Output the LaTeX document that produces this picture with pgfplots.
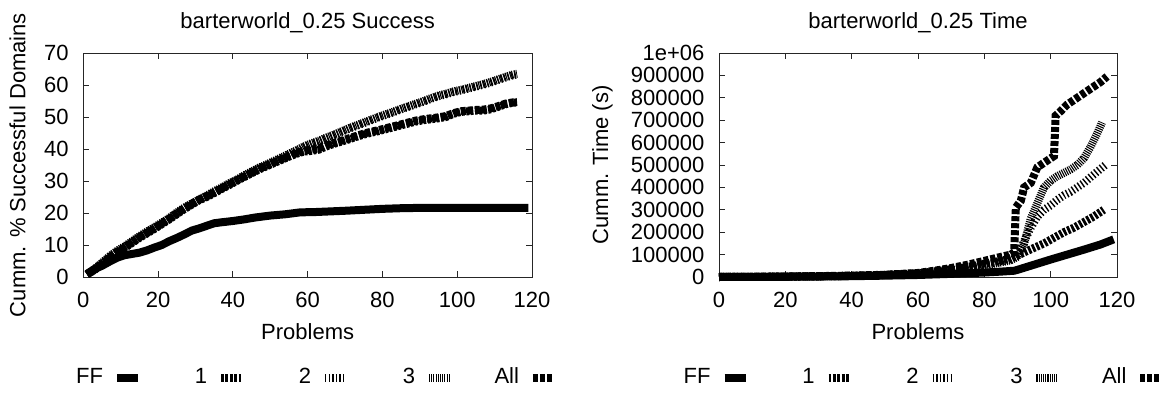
\documentclass[border=0pt]{standalone}
\usepackage{fontspec}
\setmainfont{Liberation Sans}
\usepackage{pgfplots}
\pgfplotsset{compat=1.18}
\newcommand\gpfont{\fontsize{11}{13}\selectfont}
\pgfplotsset{
  gp/.style={
    scale only axis, height=112pt,
    xmin=0, xmax=120, xtick={0,20,...,120},
    tick align=inside, major tick length=3pt,
    axis line style={line width=0.5pt, black!85},
    every tick/.style={black!85, line width=0.5pt},
    tick label style={font=\gpfont},
    xticklabel style={anchor=base, yshift=-15pt},
    yticklabel style={xshift=-3.8pt},
    title style={font=\gpfont, at={(axis description cs:0.5,1)}, anchor=base, yshift=6.5pt},
    every axis x label/.style={font=\gpfont, at={(axis description cs:0.5,0)}, anchor=base, yshift=-31pt},
    /pgf/number format/assume math mode=true,
    clip=false,
    legend columns=5,
    legend plot pos=right,
    legend image code/.code={\path (0pt,0pt); \draw[##1] (5pt,0pt) -- (15.5pt,0pt);},
  },
  ff/.style={black, line width=4pt, solid},
  sa/.style={black, line width=4pt, dash pattern=on 1.4pt off 0.8pt},
  sb/.style={black, line width=4pt, dash pattern=on 0.7pt off 1.1pt},
  sc/.style={black, line width=4pt, dash pattern=on 0.55pt off 0.55pt},
  sall/.style={black, line width=4pt, dash pattern=on 2.5pt off 1pt},
}
\begin{document}
\begin{tikzpicture}
\path[use as bounding box] (0,0) rectangle (587.5pt,196pt);
% ---------------- left ----------------
\begin{axis}[gp, at={(41.65pt,57.5pt)}, anchor=south west, width=224.35pt,
  ymin=0, ymax=70, ytick={0,10,...,70},
  title={barterworld\_0.25 Success},
  xlabel={Problems},
  every axis y label/.style={font=\gpfont, at={(axis description cs:-0.1292,0.5)}, rotate=90, anchor=base},
  ylabel={Cumm. \% Successful Domains},
  legend style={at={(axis description cs:0.4785,-0.4487)}, anchor=center, draw=none, fill=none,
    inner sep=0pt, outer sep=0pt, column sep=0pt, font=\gpfont, nodes={inner sep=0pt}},
]
\addplot[ff] coordinates {(1,1) (3,2.5) (5,3.5) (7,4.8) (9,6) (11,6.8) (13,7.2) (15,7.6) (17,8.3) (19,9.2) (21,10) (23,11.2) (25,12.2) (27,13.3) (29,14.5) (31,15.2) (33,16) (35,16.8) (37,17.1) (40,17.5) (43,18) (46,18.6) (50,19.2) (54,19.6) (58,20.2) (62,20.3) (66,20.5) (70,20.7) (75,21) (80,21.3) (85,21.5) (90,21.6) (100,21.6) (110,21.6) (119,21.6)};
\addlegendentry{\makebox[32.5pt][r]{FF}}
\addplot[sa] coordinates {(1,0.8) (3,2.2) (5,4) (7,5.8) (9,7.5) (11,9) (13,10.6) (15,12.2) (17,13.6) (19,15) (21,16.5) (23,18) (25,19.6) (27,21.2) (29,22.6) (31,24) (33,25) (35,26.2) (37,27.5) (39,28.7) (41,30) (43,31.2) (45,32.4) (47,33.6) (49,34.6) (51,35.6) (53,36.6) (55,37.6) (57,38.5) (59,39.2) (61,39.4) (63,39.8) (65,40.8) (67,41.6) (69,42.3) (71,43) (73,43.8) (75,44.5) (77,45.1) (79,45.6) (81,46.2) (83,46.8) (85,47.4) (87,48) (89,48.6) (91,49) (93,49.3) (95,49.6) (97,50) (99,51) (101,51.6) (103,51.8) (105,52) (107,52) (109,52.4) (111,53.2) (113,54) (115,54.5) (116,54.5)};
\addlegendentry{\makebox[32.5pt][r]{1}}
\addplot[sb] coordinates {(1,0.8) (3,2.4) (5,4.4) (7,6.3) (9,8) (11,9.4) (13,11) (15,12.6) (17,14) (19,15.4) (21,16.8) (23,18.3) (25,20) (27,21.5) (29,22.8) (31,24.1) (33,25.3) (35,26.6) (37,27.8) (39,29.1) (41,30.2) (43,31.6) (45,32.8) (47,34) (49,35) (51,36.1) (53,37.2) (55,38.3) (57,39.4) (59,40.6) (61,41.6) (63,42.4) (65,43.4) (67,44.3) (69,45.3) (71,46.3) (73,47.2) (75,48.1) (77,49) (79,49.9) (81,50.7) (83,51.5) (85,52.4) (87,53.2) (89,54) (91,54.8) (93,55.7) (95,56.5) (97,57.1) (99,57.8) (101,58.3) (103,58.9) (105,59.5) (107,60.1) (109,60.8) (111,61.6) (113,62.4) (115,63.1) (116,63.3)};
\addlegendentry{\makebox[32.5pt][r]{2}}
\addplot[sc] coordinates {(1,0.8) (3,2.5) (5,4.5) (7,6.5) (9,8.2) (11,9.6) (13,11.2) (15,12.8) (17,14.2) (19,15.6) (21,17) (23,18.5) (25,20.2) (27,21.7) (29,23) (31,24.3) (33,25.5) (35,26.8) (37,28) (39,29.3) (41,30.4) (43,31.8) (45,33) (47,34.2) (49,35.2) (51,36.3) (53,37.4) (55,38.5) (57,39.6) (59,40.8) (61,41.8) (63,42.6) (65,43.6) (67,44.5) (69,45.5) (71,46.5) (73,47.4) (75,48.3) (77,49.2) (79,50.1) (81,50.9) (83,51.7) (85,52.6) (87,53.4) (89,54.2) (91,55) (93,55.9) (95,56.7) (97,57.3) (99,58) (101,58.5) (103,59.1) (105,59.7) (107,60.3) (109,61) (111,61.8) (113,62.6) (115,63.3) (116,63.5)};
\addlegendentry{\makebox[32.5pt][r]{3}}
\addplot[sall] coordinates {(1,0.8) (3,2.3) (5,4.1) (7,6) (9,7.7) (11,9.2) (13,10.8) (15,12.4) (17,13.8) (19,15.2) (21,16.7) (23,18.2) (25,19.8) (27,21.4) (29,22.8) (31,24.2) (33,25.2) (35,26.4) (37,27.7) (39,28.9) (41,30.2) (43,31.4) (45,32.6) (47,33.8) (49,34.8) (51,35.8) (53,36.8) (55,37.8) (57,38.7) (59,39.5) (61,39.8) (63,40.2) (65,41.1) (67,41.9) (69,42.6) (71,43.3) (73,44.1) (75,44.8) (77,45.4) (79,45.9) (81,46.5) (83,47.1) (85,47.7) (87,48.3) (89,48.9) (91,49.3) (93,49.6) (95,49.9) (97,50.3) (99,51.2) (101,51.8) (103,52) (105,52.2) (107,52.3) (109,52.7) (111,53.4) (113,54.2) (115,54.6) (116,54.7)};
\addlegendentry{\makebox[32.5pt][r]{All}}
\end{axis}
% ---------------- right ----------------
\begin{axis}[gp, at={(359.5pt,57.5pt)}, anchor=south west, width=199pt,
  ymin=0, ymax=1000000, ytick={0,100000,...,1000000},
  yticklabels={0,100000,200000,300000,400000,500000,600000,700000,800000,900000,1e+06},
  scaled y ticks=false,
  title={barterworld\_0.25 Time},
  xlabel={Problems},
  every axis y label/.style={font=\gpfont, at={(axis description cs:-0.2789,0.5)}, rotate=90, anchor=base},
  ylabel={Cumm. Time (s)},
  legend style={at={(axis description cs:0.4686,-0.4487)}, anchor=center, draw=none, fill=none,
    inner sep=0pt, outer sep=0pt, column sep=0pt, font=\gpfont, nodes={inner sep=0pt}},
]
\addplot[ff] coordinates {(0,0) (10,500) (20,1000) (30,2000) (40,3500) (50,6000) (60,9000) (70,14000) (80,20000) (85,24000) (89,28000) (90,32000) (95,55000) (100,78000) (105,100000) (110,122000) (115,145000) (119,168000)};
\addlegendentry{\makebox[32.5pt][r]{FF}}
\addplot[sa] coordinates {(0,0) (20,1500) (40,5000) (50,9000) (60,16000) (65,25000) (70,35000) (75,45000) (80,60000) (85,72000) (88,85000) (90,95000) (92,110000) (95,130000) (98,150000) (101,175000) (104,200000) (107,220000) (110,245000) (113,270000) (116,300000)};
\addlegendentry{\makebox[32.5pt][r]{1}}
\addplot[sb] coordinates {(0,0) (20,1500) (40,5000) (50,9000) (60,16000) (65,24000) (70,33000) (75,42000) (80,55000) (85,68000) (88,80000) (90,95000) (92,160000) (94,220000) (96,270000) (98,300000) (100,320000) (102,345000) (104,365000) (106,380000) (108,400000) (110,420000) (112,445000) (114,470000) (116.5,500000)};
\addlegendentry{\makebox[32.5pt][r]{2}}
\addplot[sc] coordinates {(0,0) (20,1500) (40,5000) (50,9000) (60,15000) (65,22000) (70,30000) (75,40000) (80,52000) (85,65000) (88,75000) (90,90000) (92,150000) (94,260000) (96,330000) (98,400000) (100,430000) (102,450000) (104,465000) (106,480000) (108,500000) (110,530000) (112,580000) (114,640000) (115.5,690000)};
\addlegendentry{\makebox[32.5pt][r]{3}}
\addplot[sall] coordinates {(0,0) (20,2000) (40,6000) (50,10000) (60,18000) (65,28000) (70,40000) (75,55000) (80,72000) (85,90000) (88,100000) (89,110000) (89.5,310000) (91,340000) (92,400000) (94,420000) (96,490000) (98,510000) (100,530000) (101,540000) (101.5,720000) (103,740000) (105,770000) (107,790000) (109,810000) (111,830000) (113,850000) (115,870000) (117,895000)};
\addlegendentry{\makebox[32.5pt][r]{All}}
\end{axis}
\end{tikzpicture}
\end{document}
